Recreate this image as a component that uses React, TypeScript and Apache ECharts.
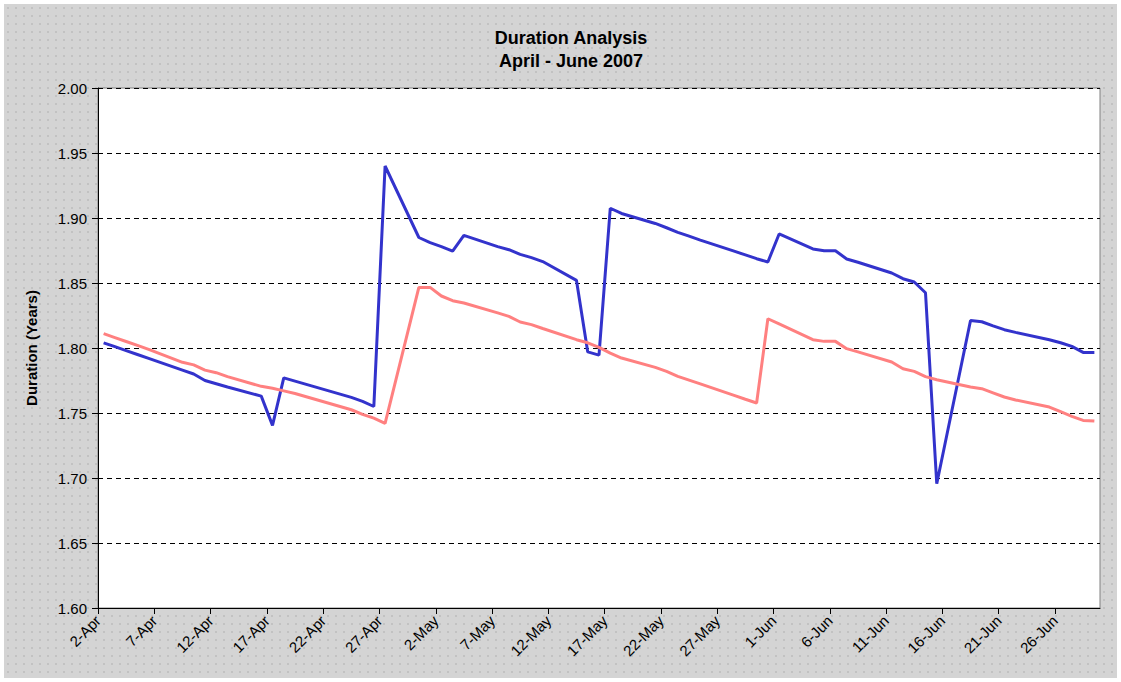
import React, { useEffect, useRef } from "react";
import * as echarts from "echarts";

const startDate = "2007-04-02";
const axisDays = 89;
const tickInterval = 5;
const monthNames = ["Jan", "Feb", "Mar", "Apr", "May", "Jun", "Jul", "Aug", "Sep", "Oct", "Nov", "Dec"];

const dates = [
  "2007-04-02", "2007-04-03", "2007-04-04", "2007-04-05", "2007-04-06",
  "2007-04-09", "2007-04-10", "2007-04-11", "2007-04-12", "2007-04-13",
  "2007-04-16", "2007-04-17", "2007-04-18", "2007-04-19", "2007-04-20",
  "2007-04-23", "2007-04-24", "2007-04-25", "2007-04-26", "2007-04-27",
  "2007-04-30", "2007-05-01", "2007-05-02", "2007-05-03", "2007-05-04",
  "2007-05-07", "2007-05-08", "2007-05-09", "2007-05-10", "2007-05-11",
  "2007-05-14", "2007-05-15", "2007-05-16", "2007-05-17", "2007-05-18",
  "2007-05-21", "2007-05-22", "2007-05-23", "2007-05-24", "2007-05-25",
  "2007-05-28", "2007-05-29", "2007-05-30", "2007-05-31", "2007-06-01",
  "2007-06-04", "2007-06-05", "2007-06-06", "2007-06-07", "2007-06-08",
  "2007-06-11", "2007-06-12", "2007-06-13", "2007-06-14", "2007-06-15",
  "2007-06-18", "2007-06-19", "2007-06-20", "2007-06-21", "2007-06-22",
  "2007-06-25", "2007-06-26", "2007-06-27", "2007-06-28", "2007-06-29",
];

const bluePortfolio = [
  1.804, 1.801, 1.798, 1.795, 1.792,
  1.783, 1.780, 1.775, 1.7725, 1.770,
  1.763, 1.7405, 1.777, 1.7745, 1.772,
  1.7645, 1.762, 1.759, 1.755, 1.940,
  1.885, 1.881, 1.878, 1.8745, 1.8866,
  1.878, 1.8756, 1.872, 1.8695, 1.8665,
  1.852, 1.797, 1.7945, 1.9075, 1.9035,
  1.8958, 1.8925, 1.889, 1.886, 1.883,
  1.8745, 1.8716, 1.8687, 1.8662, 1.8877,
  1.8762, 1.8748, 1.8748, 1.8685, 1.866,
  1.8577, 1.8533, 1.8508, 1.8425, 1.6956,
  1.8212, 1.8202, 1.817, 1.8141, 1.812,
  1.8064, 1.804, 1.8012, 1.7966, 1.7966,
];

const pinkBenchmark = [
  1.811, 1.808, 1.805, 1.802, 1.799,
  1.789, 1.787, 1.783, 1.781, 1.778,
  1.7705, 1.769, 1.767, 1.765, 1.7625,
  1.755, 1.7525, 1.749, 1.746, 1.742,
  1.8466, 1.8466, 1.840, 1.8364, 1.8346,
  1.827, 1.8243, 1.820, 1.818, 1.815,
  1.8064, 1.804, 1.8005, 1.796, 1.7923,
  1.7851, 1.782, 1.7782, 1.7753, 1.7724,
  1.7636, 1.7606, 1.7577, 1.8225, 1.8185,
  1.8064, 1.8051, 1.8051, 1.7995, 1.797,
  1.7892, 1.7841, 1.782, 1.778, 1.7756,
  1.770, 1.7687, 1.7655, 1.7623, 1.760,
  1.7546, 1.751, 1.7474, 1.7443, 1.7438,
];

const yMin = 1.6;
const yMax = 2.0;
const yInterval = 0.05;

const FONT = "Arial, 'Liberation Sans', sans-serif";
const DAY_MS = 86400000;
const startMs = Date.parse(startDate + "T00:00:00Z");

function dayOffset(d: string): number {
  return (Date.parse(d + "T00:00:00Z") - startMs) / DAY_MS + 0.5;
}

function dayLabel(v: number): string {
  const dt = new Date(startMs + Math.round(v) * DAY_MS);
  return dt.getUTCDate() + "-" + monthNames[dt.getUTCMonth()];
}

export default function App() {
  const ref = useRef<HTMLDivElement>(null);

  useEffect(() => {
    if (!ref.current) return;
    const chart = echarts.init(ref.current, undefined, { renderer: "svg" });
    const bluePts = dates.map((d, i) => [dayOffset(d), bluePortfolio[i]]);
    const pinkPts = dates.map((d, i) => [dayOffset(d), pinkBenchmark[i]]);
    chart.setOption({
      animation: false,
      backgroundColor: "transparent",
      title: {
        text: "Duration Analysis\nApril - June 2007",
        left: 566,
        top: 21,
        textAlign: "center",
        textStyle: {
          fontFamily: FONT,
          fontSize: 18,
          fontWeight: "bold",
          color: "#000",
          lineHeight: 23,
        },
      },
      grid: {
        left: 98,
        top: 88,
        right: 21,
        bottom: 74,
        show: true,
        backgroundColor: "#ffffff",
        borderColor: "#808080",
        borderWidth: 1,
      },
      xAxis: {
        type: "value",
        min: 0,
        max: axisDays,
        interval: tickInterval,
        axisLine: { show: true, lineStyle: { color: "#000", width: 1 } },
        axisTick: { show: true, length: 6, inside: false, lineStyle: { color: "#000" } },
        splitLine: { show: false },
        axisLabel: {
          rotate: 45,
          margin: 10,
          color: "#000",
          fontFamily: FONT,
          fontSize: 15,
          showMaxLabel: false,
          formatter: (v: number) => dayLabel(v),
        },
      },
      yAxis: {
        type: "value",
        min: yMin,
        max: yMax,
        interval: yInterval,
        name: "Duration (Years)",
        nameLocation: "middle",
        nameGap: 59,
        nameTextStyle: { fontFamily: FONT, fontSize: 15, fontWeight: "bold", color: "#000" },
        axisLine: { show: true, lineStyle: { color: "#000", width: 1 } },
        axisTick: { show: true, length: 6, lineStyle: { color: "#000" } },
        axisLabel: {
          margin: 11,
          color: "#000",
          fontFamily: FONT,
          fontSize: 15,
          formatter: (v: number) => v.toFixed(2),
        },
        splitLine: { show: true, lineStyle: { color: "#000", width: 1, type: [5, 4] } },
      },
      series: [
        {
          name: "Portfolio",
          type: "line",
          data: bluePts,
          showSymbol: false,
          lineStyle: { color: "#3333cc", width: 3 },
          itemStyle: { color: "#3333cc" },
        },
        {
          name: "Benchmark",
          type: "line",
          data: pinkPts,
          showSymbol: false,
          lineStyle: { color: "#ff8080", width: 3 },
          itemStyle: { color: "#ff8080" },
        },
      ],
    });
    return () => chart.dispose();
  }, []);

  return (
    <div style={{ position: "absolute", left: 0, top: 0, width: 1121, height: 682, background: "#ffffff" }}>
      <div
        style={{
          position: "absolute",
          left: 4,
          top: 4,
          width: 1113,
          height: 674,
          backgroundColor: "#d4d4d4",
          backgroundImage: "radial-gradient(circle, #c2c2c2 0.9px, transparent 1.2px)",
          backgroundSize: "8px 8px",
        }}
      />
      <div ref={ref} style={{ position: "absolute", left: 0, top: 0, width: 1121, height: 682 }} />
    </div>
  );
}
